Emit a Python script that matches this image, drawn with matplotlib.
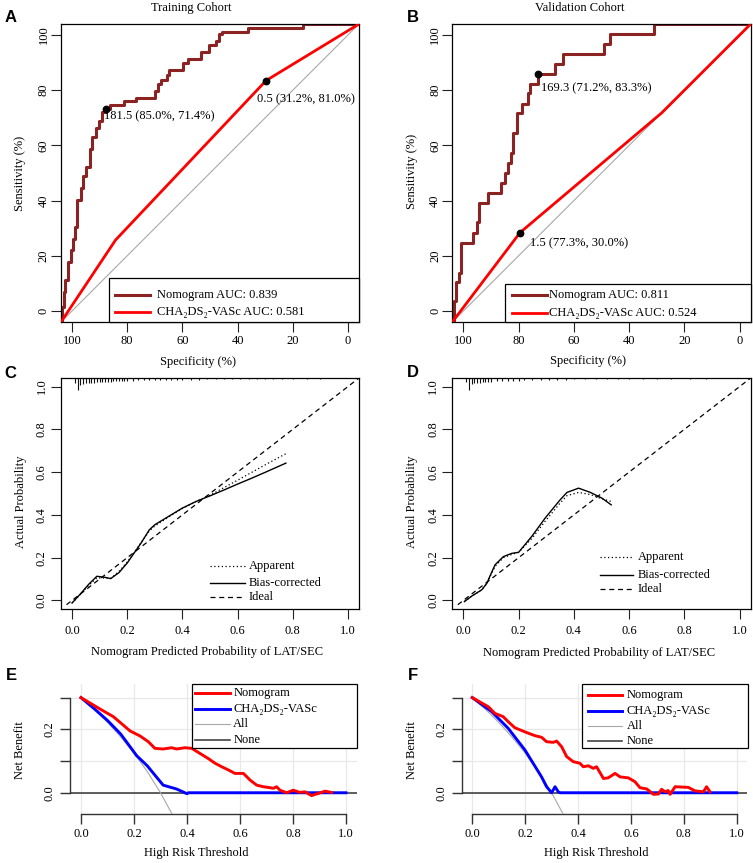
import numpy as np
import matplotlib
matplotlib.use('Agg')
import matplotlib.pyplot as plt
from matplotlib.lines import Line2D
from matplotlib.patches import Rectangle

plt.rcParams['font.family'] = ['Liberation Serif', 'DejaVu Serif']
plt.rcParams['font.size'] = 9

W, H = 753, 863  # figure size in pixels (dpi 100)

# ---------------- data ----------------
# ROC curves (specificity %, sensitivity %), staircase corners
train_nomo_spec = [100, 99.6, 99.0, 98.6, 97.8, 96.8, 95.9, 95.2, 94.5, 93.4, 92.7, 91.6, 90.4, 89.6, 88.4,
                   87.4, 86.3, 85.0, 83.4, 79.0, 74.8, 68.4, 67.4, 66.4, 64.5, 63.7, 59.2, 57.5, 53.0, 50.2,
                   48.0, 46.9, 45.9, 37.3, 18.9, 0]
train_nomo_sens = [0, 5, 10, 14, 20, 24, 28, 32, 41, 45, 49, 52, 58, 62, 65, 67.5, 70.5, 71.4, 72.9, 74.2,
                   75.3, 77.5, 80.0, 81.2, 82.9, 84.6, 87.0, 88.1, 90.7, 93.0, 94.4, 96.5, 97.4, 98.5, 100, 100]
train_cha_spec = [100, 81.7, 31.2, 0]
train_cha_sens = [0, 27.5, 81.0, 100]

valid_nomo_spec = [100, 99.5, 98.8, 97.9, 97.2, 93.2, 91.6, 91.0, 87.9, 83.7, 82.3, 81.2, 80.3, 79.8, 78.4,
                   76.5, 74.7, 74.0, 71.2, 65.6, 62.8, 49.1, 47.2, 32.3, 0]
valid_nomo_sens = [0, 7, 13.5, 16.5, 26.6, 30, 33.7, 40, 43.3, 46.7, 50, 53.3, 56.7, 63.3, 70, 73.3, 76.7,
                   80, 83.3, 86.7, 90, 93.3, 96.7, 100, 100]
valid_cha_spec = [100, 77.3, 29.8, 0]
valid_cha_sens = [0, 30.0, 70.2, 100]

auc_train = [0.839, 0.581]
auc_valid = [0.811, 0.524]
# best thresholds: (label, specificity, sensitivity)
cut_train = [('181.5', 85.0, 71.4), ('0.5', 31.2, 81.0)]
cut_valid = [('169.3', 71.2, 83.3), ('1.5', 77.3, 30.0)]

# calibration curves
cal_train_x = [0.0, 0.03, 0.06, 0.09, 0.12, 0.14, 0.17, 0.20, 0.25, 0.28, 0.30, 0.35, 0.40, 0.45, 0.50,
               0.55, 0.60, 0.65, 0.70, 0.775]
cal_train_bias = [-0.012, 0.03, 0.075, 0.113, 0.108, 0.102, 0.13, 0.175, 0.268, 0.33, 0.354, 0.393, 0.432,
                  0.463, 0.489, 0.516, 0.544, 0.571, 0.599, 0.642]
cal_train_app = [-0.012, 0.028, 0.07, 0.105, 0.105, 0.103, 0.135, 0.18, 0.27, 0.325, 0.348, 0.39, 0.43,
                 0.463, 0.492, 0.527, 0.562, 0.598, 0.634, 0.686]

cal_valid_x = [0.004, 0.03, 0.067, 0.085, 0.10, 0.115, 0.145, 0.175, 0.20, 0.248, 0.296, 0.35, 0.375,
               0.417, 0.46, 0.502, 0.535]
cal_valid_bias = [-0.005, 0.02, 0.05, 0.08, 0.125, 0.167, 0.205, 0.22, 0.225, 0.30, 0.385, 0.47, 0.505,
                  0.525, 0.505, 0.478, 0.447]
cal_valid_app = [-0.005, 0.02, 0.05, 0.08, 0.12, 0.16, 0.20, 0.215, 0.225, 0.29, 0.37, 0.455, 0.49,
                 0.505, 0.495, 0.475, 0.463]

# rug of predicted probabilities (position, count)
rug_train_x = [0.01, 0.02, 0.03, 0.04, 0.05, 0.06, 0.07, 0.08, 0.09, 0.10, 0.11, 0.12, 0.13, 0.14, 0.15,
               0.16, 0.17, 0.18, 0.19, 0.20, 0.22, 0.24, 0.26, 0.28, 0.30, 0.32, 0.34, 0.36, 0.38, 0.40,
               0.43, 0.46, 0.49, 0.52, 0.55, 0.58, 0.61, 0.64, 0.67, 0.70, 0.73, 0.76, 0.80, 0.85, 0.90]
rug_train_n = [10, 24, 14, 11, 10, 10, 9, 9, 8, 8, 8, 7, 7, 7, 6, 6, 6, 5, 5, 5, 5, 4, 4, 4, 4, 4, 3, 3, 3, 3,
               3, 3, 2, 2, 2, 2, 2, 2, 2, 2, 2, 2, 2, 2, 2]
rug_valid_x = [0.01, 0.02, 0.03, 0.04, 0.05, 0.06, 0.07, 0.08, 0.09, 0.10, 0.12, 0.14, 0.16, 0.18, 0.20,
               0.22, 0.25, 0.28, 0.31, 0.34, 0.37, 0.40, 0.44, 0.48, 0.52, 0.56, 0.60, 0.65, 0.70, 0.75,
               0.82, 0.88]
rug_valid_n = [8, 24, 12, 10, 9, 9, 8, 8, 7, 7, 6, 6, 5, 5, 5, 4, 4, 3, 3, 3, 3, 2, 2, 2, 2, 2, 2, 2, 2, 2,
               2, 2]

# decision curves (threshold, net benefit)
dca_train_thr = [0, 0.072, 0.122, 0.16, 0.185, 0.223, 0.254, 0.279, 0.31, 0.342, 0.361, 0.392, 0.418, 0.449,
                 0.48, 0.506, 0.531, 0.556, 0.581, 0.613, 0.638, 0.663, 0.688, 0.713, 0.726, 0.738, 0.751,
                 0.776, 0.801, 0.826, 0.845, 0.87, 0.896, 0.921, 0.946]
dca_train_nomo = [0.30, 0.264, 0.24, 0.213, 0.195, 0.179, 0.161, 0.14, 0.138, 0.142, 0.138, 0.142, 0.14,
                  0.124, 0.108, 0.093, 0.082, 0.072, 0.061, 0.061, 0.04, 0.024, 0.019, 0.016, 0.014, 0.019,
                  0.008, 0.0, 0.008, 0.001, 0.003, -0.009, -0.002, 0.005, 0.001]
dca_train_cha_thr = [0, 0.05, 0.10, 0.15, 0.21, 0.25, 0.31, 0.36, 0.40, 0.405, 1.0]
dca_train_cha = [0.30, 0.265, 0.228, 0.185, 0.117, 0.085, 0.024, 0.012, -0.003, 0.0, 0.0]

dca_valid_thr = [0, 0.061, 0.086, 0.117, 0.136, 0.161, 0.199, 0.237, 0.262, 0.281, 0.306, 0.319, 0.338, 0.357,
                 0.382, 0.407, 0.42, 0.439, 0.458, 0.47, 0.496, 0.514, 0.54, 0.559, 0.59, 0.615, 0.634, 0.66,
                 0.685, 0.704, 0.716, 0.729, 0.741, 0.748, 0.767, 0.817, 0.842, 0.874, 0.886, 0.899]
dca_valid_nomo = [0.30, 0.271, 0.25, 0.24, 0.224, 0.205, 0.192, 0.18, 0.175, 0.161, 0.159, 0.163, 0.145,
                  0.114, 0.098, 0.093, 0.082, 0.085, 0.077, 0.082, 0.045, 0.047, 0.061, 0.05, 0.047, 0.035,
                  0.016, 0.012, -0.005, -0.004, 0.011, 0.003, 0.007, -0.005, 0.019, 0.017, 0.006, 0.003,
                  0.019, 0.003]
dca_valid_cha_thr = [0, 0.073, 0.136, 0.199, 0.262, 0.281, 0.30, 0.313, 0.325, 0.332, 1.0]
dca_valid_cha = [0.30, 0.256, 0.203, 0.135, 0.05, 0.019, 0.0, 0.019, 0.003, 0.0, 0.0]

all_thr = [0, 0.05, 0.10, 0.15, 0.20, 0.25, 0.30, 0.35]
all_nb_train = [0.30, 0.263, 0.222, 0.176, 0.125, 0.067, 0.0, -0.077]
all_nb_valid = [0.30, 0.263, 0.222, 0.176, 0.125, 0.067, 0.0, -0.077]

CHA = 'CHA\u2082DS\u2082-VASc'
BROWN = '#8B2323'

# ---------------- helpers (pixel coords, origin top-left) ----------------
fig = plt.figure(figsize=(W / 100, H / 100), dpi=100)


def add_ax(x0, y0, x1, y1):
    return fig.add_axes([x0 / W, 1 - y1 / H, (x1 - x0) / W, (y1 - y0) / H])


def ftext(x, y, s, **kw):
    fig.text(x / W, 1 - y / H, s, **kw)


def leg_box(x0, y0, x1, y1):
    fig.add_artist(Rectangle((x0 / W, 1 - y1 / H), (x1 - x0) / W, (y1 - y0) / H, transform=fig.transFigure,
                             facecolor='white', edgecolor='black', lw=0.9, zorder=5))


def leg_row(x0, x1, xt, y, label, **kw):
    fig.add_artist(Line2D([x0 / W, x1 / W], [1 - y / H, 1 - y / H], transform=fig.transFigure, zorder=6, **kw))
    fig.text(xt / W, 1 - y / H, label, va='center', ha='left', fontsize=9, zorder=6)


def panel_letter(x, y, s):
    ftext(x, y, s, ha='center', va='center', fontsize=12, fontweight='bold', family='Liberation Sans')


# ---------------- ROC panels ----------------
def roc_panel(box, nomo_spec, nomo_sens, cha_spec, cha_sens, cuts, offsets):
    ax = add_ax(*box)
    ax.set_xlim(100, 0)
    ax.set_ylim(0, 100)
    ax.plot([100, 0], [0, 100], color='#A8A8A8', lw=0.8, zorder=1)
    ax.step(nomo_spec, nomo_sens, where='post', color=BROWN, lw=2.2, zorder=2)
    ax.plot(cha_spec, cha_sens, color='#FF0000', lw=2.0, zorder=3)
    for (lab, sp, se), (dx, dy) in zip(cuts, offsets):
        ax.plot(sp, se, 'o', color='black', ms=4.6, zorder=4)
        ax.annotate(lab + ' (%.1f%%, %.1f%%)' % (sp, se), (sp, se), xytext=(dx, dy),
                    textcoords='offset pixels', ha='left', va='center', fontsize=9, zorder=4)
    ticks = [0, 20, 40, 60, 80, 100]
    ax.set_xticks([(t + 4) / 1.08 for t in ticks])
    ax.set_xticklabels([str(t) for t in ticks])
    ax.set_yticks([(t + 4) / 1.08 for t in ticks])
    ax.set_yticklabels([str(t) for t in ticks], rotation=90, va='center')
    ax.tick_params(direction='out', length=7.5, width=0.8, color='#222222')
    ax.tick_params(axis='x', pad=2)
    ax.tick_params(axis='y', pad=0.5)
    for sp in ax.spines.values():
        sp.set_linewidth(0.9)
    return ax


roc_panel((61, 24, 359, 322), train_nomo_spec, train_nomo_sens, train_cha_spec, train_cha_sens,
          cut_train, [(-2, -7), (-9, -19)])
roc_panel((452.3, 24, 750.7, 322), valid_nomo_spec, valid_nomo_sens, valid_cha_spec, valid_cha_sens,
          cut_valid, [(3, -15), (10, -11)])

leg_box(108.7, 278, 359, 322)
leg_row(115, 150, 157, 295, 'Nomogram AUC: %.3f' % auc_train[0], color=BROWN, lw=2.2)
leg_row(115, 150, 157, 312, CHA + ' AUC: %.3f' % auc_train[1], color='#FF0000', lw=2.0)
leg_box(505, 284, 750.7, 322)
leg_row(512, 547, 549, 295, 'Nomogram AUC: %.3f' % auc_valid[0], color=BROWN, lw=2.2)
leg_row(512, 547, 549, 313, CHA + ' AUC: %.3f' % auc_valid[1], color='#FF0000', lw=2.0)

ftext(191, 8, 'Training Cohort', ha='center', va='center', fontsize=9)
ftext(580, 8, 'Validation Cohort', ha='center', va='center', fontsize=9)
ftext(20, 173, 'Sensitivity (%)', ha='center', va='center', rotation=90, fontsize=9)
ftext(411.7, 171, 'Sensitivity (%)', ha='center', va='center', rotation=90, fontsize=9)
ftext(198, 362, 'Specificity (%)', ha='center', va='center', fontsize=9)
ftext(587.5, 361, 'Specificity (%)', ha='center', va='center', fontsize=9)


# ---------------- calibration panels ----------------
def cal_panel(box, x, app, bias, rug_x, rug_n):
    ax = add_ax(*box)
    ax.set_xlim(-0.04, 1.04)
    ax.set_ylim(-0.04, 1.04)
    ax.plot([-0.02, 1.04], [-0.02, 1.04], color='black', lw=0.9, ls=(0, (4, 3)))
    ax.plot(x[:len(app)], app, color='black', lw=0.9, ls=(0, (1, 2)))
    ax.plot(x, bias, color='black', lw=1.0)
    ax.vlines(rug_x, [1.04 - n * 0.0024 for n in rug_n], 1.04, color='#111111', lw=0.8)
    ticks = [0, 0.2, 0.4, 0.6, 0.8, 1.0]
    ax.set_xticks(ticks)
    ax.set_xticklabels(['%.1f' % t for t in ticks])
    ax.set_yticks(ticks)
    ax.set_yticklabels(['%.1f' % t for t in ticks], rotation=90, va='center')
    ax.tick_params(direction='out', length=7.5, width=0.8, color='#222222')
    ax.tick_params(axis='x', pad=4)
    ax.tick_params(axis='y', pad=2)
    for sp in ax.spines.values():
        sp.set_linewidth(0.9)
    return ax


cal_panel((61, 378, 359, 609), cal_train_x, cal_train_app, cal_train_bias, rug_train_x, rug_train_n)
cal_panel((452.3, 378, 750.7, 609), cal_valid_x, cal_valid_app, cal_valid_bias, rug_valid_x, rug_valid_n)

for x0, x1, xt, rows in [(210, 245, 249, (566, 583, 597)), (600, 633, 638, (557, 575, 589))]:
    leg_row(x0, x1, xt, rows[0], 'Apparent', color='black', lw=0.9, ls=(0, (1, 2)))
    leg_row(x0, x1, xt, rows[1], 'Bias-corrected', color='black', lw=1.0)
    leg_row(x0, x1, xt, rows[2], 'Ideal', color='black', lw=0.9, ls=(0, (4, 3)))

ftext(20.7, 502, 'Actual Probability', ha='center', va='center', rotation=90, fontsize=9)
ftext(411.7, 502, 'Actual Probability', ha='center', va='center', rotation=90, fontsize=9)
ftext(207, 652, 'Nomogram Predicted Probability of LAT/SEC', ha='center', va='center', fontsize=9)
ftext(599, 653, 'Nomogram Predicted Probability of LAT/SEC', ha='center', va='center', fontsize=9)


# ---------------- decision curve panels ----------------
def dca_panel(box, thr, nomo, cha_thr, cha, all_nb):
    ax = add_ax(*box)
    ax.set_xlim(-0.04, 1.04)
    ax.set_ylim(-0.067, 0.343)
    ax.set_xticks([0, 0.2, 0.4, 0.6, 0.8, 1.0])
    ax.set_xticklabels(['0.0', '0.2', '0.4', '0.6', '0.8', '1.0'])
    ax.set_yticks([0, 0.1, 0.2, 0.3])
    ax.set_yticklabels(['0.0', '', '0.2', ''], rotation=90, va='center')
    ax.grid(True, color='#E8E8E8', lw=0.9)
    ax.set_axisbelow(True)
    for s in ['top', 'right']:
        ax.spines[s].set_visible(False)
    ax.spines['left'].set_bounds(0, 0.3)
    ax.spines['bottom'].set_bounds(0, 1.0)
    for s in ['left', 'bottom']:
        ax.spines[s].set_linewidth(1.0)
        ax.spines[s].set_color('#333333')
    ax.tick_params(direction='out', length=7.5, width=1.0, color='#333333')
    ax.tick_params(axis='x', pad=2.5)
    ax.tick_params(axis='y', pad=3)
    ax.axhline(0, color='#444444', lw=1.2, zorder=2)
    ax.plot(all_thr, all_nb, color='#A8A8A8', lw=0.8, zorder=3)
    ax.plot(cha_thr, cha, color='#0000FF', lw=2.1, zorder=4)
    ax.plot(thr, nomo, color='#FF0000', lw=2.1, zorder=5)
    return ax


dca_panel((70.4, 684, 356.6, 814), dca_train_thr, dca_train_nomo, dca_train_cha_thr, dca_train_cha, all_nb_train)
dca_panel((461.7, 684, 747.3, 814), dca_valid_thr, dca_valid_nomo, dca_valid_cha_thr, dca_valid_cha, all_nb_valid)

for bx, lx0, lx1, xt, rows in [((192.3, 684, 356.7, 748.3), 195, 230, 233.3, (693.3, 709, 724, 740)),
                               ((582.3, 684, 747.7, 748.3), 588, 622, 626.7, (695, 711, 725.7, 741))]:
    leg_box(*bx)
    leg_row(lx0, lx1, xt, rows[0], 'Nomogram', color='#FF0000', lw=2.1)
    leg_row(lx0, lx1, xt, rows[1], CHA, color='#0000FF', lw=2.1)
    leg_row(lx0, lx1, xt, rows[2], 'All', color='#A8A8A8', lw=0.8)
    leg_row(lx0, lx1, xt, rows[3], 'None', color='#444444', lw=1.2)

ftext(20, 750, 'Net Benefit', ha='center', va='center', rotation=90, fontsize=9)
ftext(411.7, 750, 'Net Benefit', ha='center', va='center', rotation=90, fontsize=9)
ftext(196, 853, 'High Risk Threshold', ha='center', va='center', fontsize=9)
ftext(596, 853, 'High Risk Threshold', ha='center', va='center', fontsize=9)

for x, y, s in [(11, 18, 'A'), (412.5, 18, 'B'), (10.5, 373, 'C'), (412.5, 372.5, 'D'),
                (11.5, 675, 'E'), (412.5, 675, 'F')]:
    panel_letter(x, y, s)

fig.savefig('out.png', dpi=100)
